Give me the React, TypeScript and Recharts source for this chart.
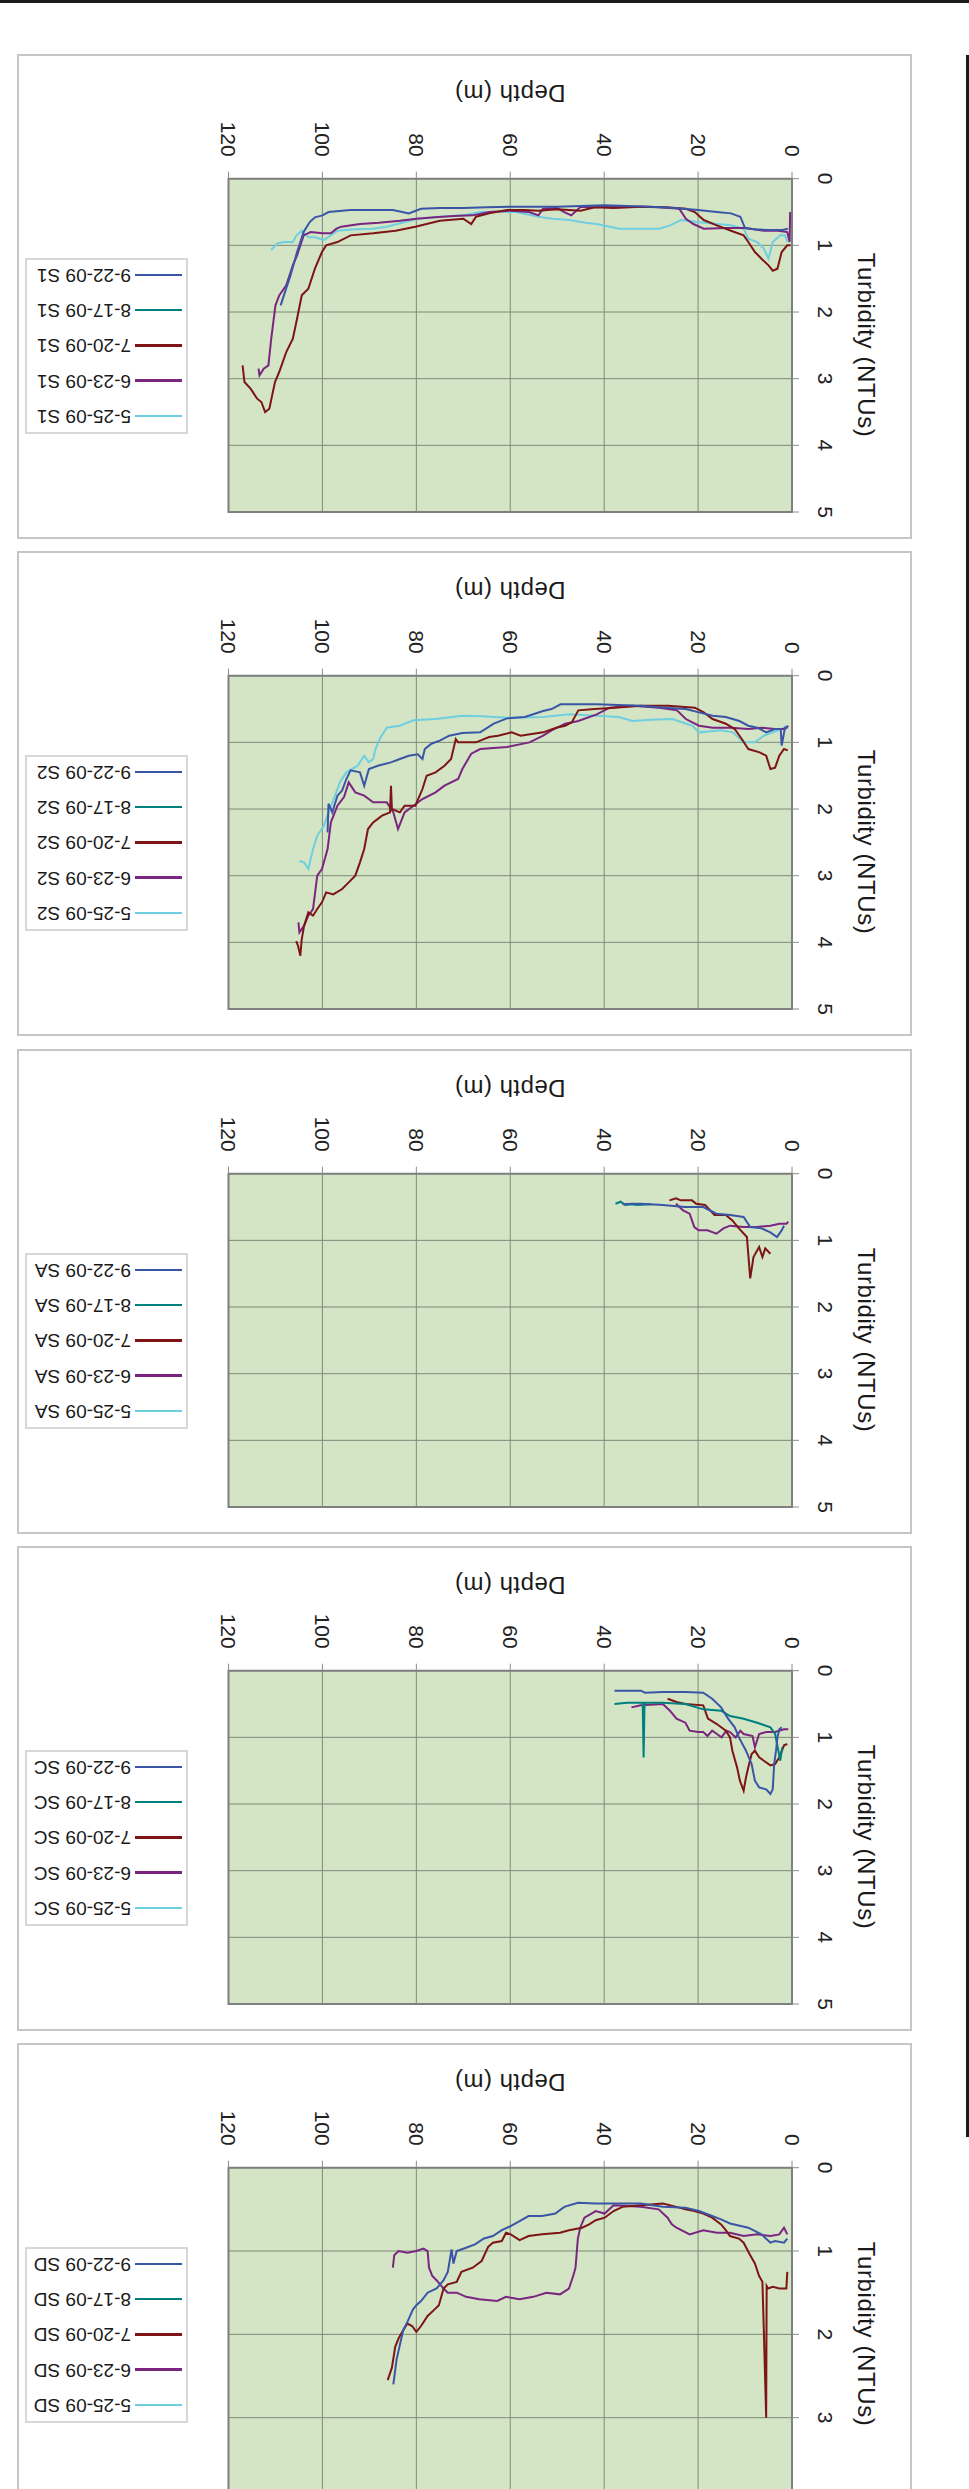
import React from "react";
import {
  LineChart,
  Line,
  XAxis,
  YAxis,
  CartesianGrid,
  Legend,
  ReferenceArea,
} from "recharts";

const FONT = '"Liberation Sans", Arial, sans-serif';

// series order = drawing order (the legend box is shown turned over, so it reads bottom-up)
const DATES = ["5-25-09", "6-23-09", "7-20-09", "8-17-09", "9-22-09"];
const COLORS = ["#6fcfe0", "#7b2580", "#7e1416", "#00807e", "#3a55a6"];
const DEPTH_TICKS = [0, 20, 40, 60, 80, 100, 120];

// [depth (m), turbidity (NTU)]
// ---- S1
const s1_0525 = [[0.9, 0.95], [1.5, 0.85], [2.5, 0.85], [4.1, 0.95], [5, 1.2], [6, 1.05], [7.4, 0.95], [9.3, 0.9], [10.3, 0.75], [13, 0.7], [16, 0.68], [20, 0.65], [23.6, 0.62], [26, 0.7], [28.3, 0.75], [33, 0.75], [36.9, 0.75], [38.8, 0.72], [41.6, 0.68], [44, 0.66], [47.4, 0.62], [51, 0.6], [54, 0.57], [58.8, 0.5], [62, 0.5], [66.4, 0.5], [70.2, 0.55], [75, 0.57], [79.7, 0.6], [83, 0.66], [86.3, 0.72], [89.2, 0.75], [93, 0.76], [96.8, 0.78], [99.7, 0.92], [101.5, 0.88], [103, 0.88], [104.4, 0.78], [105.5, 0.85], [106.3, 0.95], [108.2, 0.95], [109.6, 0.97], [110.9, 1.07]];
const s1_0623 = [[0.4, 0.5], [0.5, 0.95], [1, 0.8], [3, 0.78], [6, 0.78], [10, 0.74], [14, 0.74], [18.8, 0.75], [21, 0.68], [22.6, 0.6], [24, 0.45], [28, 0.43], [33, 0.42], [38, 0.42], [42, 0.43], [45, 0.42], [47, 0.55], [48.5, 0.5], [50, 0.44], [53, 0.45], [54, 0.55], [56, 0.5], [60, 0.48], [64.5, 0.5], [68, 0.55], [72, 0.56], [76, 0.58], [80, 0.6], [83.5, 0.63], [88, 0.66], [92, 0.68], [96, 0.72], [97, 0.75], [98.2, 0.82], [100, 0.82], [102.5, 0.8], [104, 0.85], [105.4, 1.15], [106.3, 1.3], [107.7, 1.6], [109.2, 1.75], [110, 1.9], [110.9, 2.4], [111.5, 2.8], [112.5, 2.85], [113.4, 2.95], [113.6, 2.85]];
const s1_0720 = [[0.3, 1.0], [1, 1.0], [2.2, 1.1], [3.1, 1.35], [4.1, 1.38], [5, 1.3], [6.5, 1.2], [7.9, 1.1], [9.3, 0.95], [10.3, 0.85], [13, 0.78], [16, 0.7], [18.8, 0.62], [20.7, 0.5], [22.6, 0.45], [27, 0.43], [32, 0.42], [38, 0.44], [42, 0.43], [45, 0.48], [50, 0.46], [54, 0.48], [57, 0.47], [60.7, 0.47], [64.5, 0.52], [67.3, 0.57], [68.3, 0.68], [70, 0.6], [75, 0.63], [80.2, 0.72], [84.4, 0.78], [89.2, 0.82], [94, 0.85], [96.8, 0.95], [99.2, 1.0], [100.1, 1.1], [101.6, 1.35], [103, 1.65], [104.4, 1.75], [105.4, 2.1], [106.3, 2.4], [107.7, 2.6], [109.2, 2.9], [110.1, 3.05], [111.3, 3.45], [112.2, 3.5], [113, 3.35], [113.9, 3.3], [115.3, 3.15], [116.6, 3.05], [117, 2.8]];
const s1_0817: number[][] = [];
const s1_0922 = [[0.9, 0.75], [2, 0.77], [5, 0.77], [8, 0.76], [10, 0.74], [11, 0.57], [13, 0.52], [16, 0.5], [20, 0.47], [25, 0.44], [30, 0.42], [35, 0.41], [40, 0.4], [45, 0.41], [50, 0.42], [55, 0.42], [60, 0.42], [65, 0.43], [70, 0.44], [75, 0.44], [79, 0.45], [81.6, 0.52], [83, 0.5], [85, 0.47], [90, 0.47], [94, 0.47], [97, 0.49], [98.7, 0.5], [100, 0.55], [101.6, 0.58], [102.7, 0.65], [104, 0.8], [105.4, 1.1], [106.8, 1.45], [108.2, 1.75], [108.9, 1.9]];

// ---- S2
const s2_0525 = [[1.2, 0.75], [2.2, 0.8], [4.1, 0.85], [6, 0.9], [7.9, 1.0], [10.3, 1.0], [12.6, 0.85], [15, 0.82], [19.8, 0.85], [21.2, 0.75], [25.5, 0.65], [30, 0.66], [34, 0.68], [36.9, 0.62], [41.6, 0.6], [47.4, 0.58], [53, 0.62], [60.7, 0.63], [66, 0.61], [70.2, 0.6], [75.9, 0.65], [80.6, 0.67], [83.5, 0.75], [86.3, 0.78], [87.8, 0.95], [88.7, 1.1], [89.2, 1.25], [90.1, 1.3], [91.1, 1.2], [92.5, 1.35], [94.9, 1.45], [96.3, 1.6], [97.3, 1.8], [98.7, 2.05], [99.7, 2.25], [101.1, 2.4], [102, 2.6], [103, 2.9], [103.9, 2.8], [104.9, 2.78]];
const s2_0623 = [[0.8, 0.75], [1.5, 0.8], [3.6, 0.8], [6.5, 0.78], [9.3, 0.8], [13, 0.78], [16.9, 0.78], [19.8, 0.75], [22.6, 0.65], [24.5, 0.52], [28.3, 0.48], [34, 0.45], [38.8, 0.48], [41.6, 0.58], [45.5, 0.68], [48.3, 0.72], [51.2, 0.82], [53, 0.9], [55.9, 1.0], [60.7, 1.07], [66.4, 1.1], [68.3, 1.17], [70.2, 1.4], [71.1, 1.55], [74, 1.65], [75.9, 1.75], [78.7, 1.85], [80.6, 1.95], [82.5, 2.05], [83.9, 2.3], [84.9, 2.05], [86.3, 1.9], [89.2, 1.9], [91.1, 1.8], [93, 1.75], [94.4, 1.6], [95.4, 1.82], [96.8, 1.95], [98.2, 2.2], [98.9, 2.6], [100.1, 2.9], [101.1, 3.0], [102, 3.5], [103, 3.6], [103.9, 3.75], [104.9, 3.85], [105.1, 3.7]];
const s2_0720 = [[0.9, 1.12], [1.7, 1.1], [2.7, 1.2], [3.6, 1.38], [4.6, 1.4], [5.5, 1.2], [6.9, 1.15], [9.3, 1.1], [10.7, 0.95], [12.2, 0.8], [14.1, 0.72], [16.9, 0.65], [18.8, 0.55], [20.7, 0.48], [26.4, 0.45], [32.1, 0.45], [37.8, 0.48], [42, 0.5], [45.5, 0.52], [46.9, 0.7], [48.3, 0.75], [50.2, 0.78], [53, 0.85], [57.8, 0.9], [59.7, 0.85], [62.6, 0.9], [64.5, 0.92], [67.3, 1.0], [71.1, 1.0], [71.6, 0.95], [72.6, 1.25], [74, 1.35], [75.9, 1.45], [77.8, 1.5], [78.7, 1.7], [80.2, 1.95], [82.5, 1.95], [83.5, 2.05], [85.2, 2.0], [85.4, 1.65], [85.6, 2.05], [87.3, 2.1], [89.2, 2.2], [90.3, 2.3], [91.1, 2.6], [92, 2.8], [93, 3.0], [94.4, 3.1], [95.8, 3.2], [97.7, 3.28], [99.2, 3.25], [100.1, 3.4], [101.1, 3.5], [102, 3.6], [103, 3.55], [103.9, 3.75], [104.4, 3.95], [104.7, 4.2], [105.2, 4.05], [105.6, 3.98]];
const s2_0817: number[][] = [];
const s2_0922 = [[0.95, 0.78], [1.5, 0.78], [2.2, 1.05], [2.4, 0.8], [3.6, 0.8], [5.5, 0.85], [7.4, 0.78], [9.3, 0.75], [11.2, 0.68], [14.1, 0.62], [16.9, 0.6], [19.8, 0.55], [22.6, 0.5], [27.4, 0.48], [32.1, 0.45], [37, 0.44], [41.6, 0.43], [45, 0.43], [49.3, 0.43], [51.2, 0.5], [53, 0.53], [56.9, 0.62], [60.7, 0.64], [63.5, 0.72], [66.4, 0.85], [70.2, 0.86], [73, 0.9], [74.9, 0.97], [76.8, 1.02], [78.2, 1.1], [78.7, 1.25], [79.7, 1.18], [81.6, 1.2], [83.5, 1.25], [85.4, 1.3], [88.2, 1.35], [90.1, 1.4], [91.1, 1.65], [92, 1.45], [94, 1.42], [94.9, 1.55], [95.8, 1.72], [96.8, 1.8], [97.9, 2.05], [98.7, 1.92], [98.9, 2.35]];

// ---- SA
const sa_0525: number[][] = [];
const sa_0623 = [[0.8, 0.72], [1.2, 0.75], [2.7, 0.75], [4.6, 0.78], [7.5, 0.8], [10.3, 0.8], [13.2, 0.78], [14.6, 0.82], [16.1, 0.9], [18, 0.85], [19.9, 0.85], [20.8, 0.8], [21.8, 0.6], [23.2, 0.55], [24.7, 0.45]];
const sa_0720 = [[4.6, 1.2], [5.7, 1.12], [6.3, 1.25], [7, 1.1], [8.2, 1.25], [8.9, 1.57], [9.6, 0.95], [11.3, 0.82], [12.7, 0.7], [14.1, 0.62], [16.5, 0.62], [18.5, 0.47], [20.4, 0.45], [21.3, 0.4], [23.7, 0.4], [24.7, 0.37], [26.1, 0.4]];
const sa_0817 = [[30, 0.46], [33, 0.47], [34, 0.46], [35.5, 0.47], [36.5, 0.42], [37.6, 0.45]];
const sa_0922 = [[1.7, 0.78], [2.2, 0.85], [3.2, 0.95], [4.6, 0.88], [6.5, 0.82], [8.9, 0.8], [10.3, 0.65], [13.2, 0.62], [16.1, 0.6], [18.9, 0.5], [22.8, 0.5], [27.5, 0.47], [32.3, 0.45], [34, 0.45], [36.1, 0.46]];

// ---- SC
const sc_0525: number[][] = [];
const sc_0623 = [[0.8, 0.88], [1.7, 0.88], [3.6, 0.92], [5.5, 0.92], [7, 0.95], [7.9, 1.15], [8.4, 0.98], [10.3, 0.95], [11, 0.9], [12, 1.0], [13.2, 0.92], [14, 0.9], [15, 1.0], [16, 0.95], [17, 0.9], [18, 0.98], [18.9, 0.92], [20, 0.92], [21.8, 0.9], [22.7, 0.78], [24.6, 0.72], [26, 0.6], [27.5, 0.5], [32.2, 0.52], [34.2, 0.55]];
const sc_0720 = [[1, 1.1], [1.7, 1.12], [2.7, 1.3], [3.6, 1.4], [4.6, 1.42], [6, 1.35], [7, 1.3], [7.9, 1.2], [8.6, 1.25], [9.3, 1.45], [9.8, 1.6], [10.3, 1.8], [11.1, 1.65], [11.7, 1.45], [12.7, 1.2], [13.2, 1.0], [14.1, 0.9], [16, 0.8], [17.9, 0.72], [18.9, 0.52], [22.7, 0.5], [24.6, 0.47], [26.5, 0.42]];
const sc_0817 = [[2.1, 1.15], [2.5, 1.35], [2.9, 1.2], [3.6, 0.95], [4.6, 0.85], [7.4, 0.78], [10.3, 0.72], [13.2, 0.68], [15.1, 0.6], [18.9, 0.58], [22.7, 0.5], [27.5, 0.48], [31.4, 0.48], [31.6, 1.3], [31.8, 0.48], [35.1, 0.48], [37.8, 0.5]];
const sc_0922 = [[2.2, 0.85], [2.7, 0.88], [3.1, 1.0], [3.4, 1.2], [3.8, 1.4], [4.1, 1.78], [4.6, 1.85], [5.5, 1.78], [7, 1.75], [7.9, 1.65], [8.6, 1.4], [9.8, 1.2], [11.3, 1.0], [12.2, 0.85], [13.6, 0.72], [15.1, 0.55], [17, 0.42], [18.9, 0.33], [22.7, 0.32], [27.5, 0.32], [31.3, 0.33], [32.2, 0.3], [35, 0.3], [37.8, 0.3]];

// ---- SD
const sd_0525: number[][] = [];
const sd_0623 = [[1, 0.8], [1.7, 0.72], [2.7, 0.8], [4.6, 0.82], [7.4, 0.8], [10.3, 0.82], [13.2, 0.78], [16, 0.78], [18.9, 0.75], [21.8, 0.8], [24.6, 0.72], [25.6, 0.68], [26.5, 0.6], [28.4, 0.5], [32.2, 0.47], [38, 0.45], [39.9, 0.55], [41.8, 0.52], [42.7, 0.55], [44.2, 0.6], [45.1, 0.72], [45.6, 0.85], [46.1, 1.2], [46.6, 1.3], [47.5, 1.45], [49.4, 1.52], [52.3, 1.5], [55.1, 1.55], [58, 1.58], [60.9, 1.55], [62.8, 1.6], [66.6, 1.58], [69.4, 1.55], [71.4, 1.5], [73.3, 1.5], [74.2, 1.45], [75.7, 1.35], [76.6, 1.3], [77.3, 1.2], [77.6, 1.0], [78.5, 0.97], [80, 1.0], [81.9, 1.02], [83.8, 1.0], [84.7, 1.05], [85, 1.2]];
const sd_0720 = [[1, 1.25], [1.2, 1.45], [2.7, 1.45], [4.1, 1.43], [5.1, 1.45], [5.4, 1.42], [5.5, 3.0], [6.0, 1.95], [6.3, 1.37], [7, 1.3], [7.9, 1.15], [8.9, 1.05], [10.3, 0.9], [11.3, 0.85], [13.2, 0.82], [14.1, 0.75], [15.1, 0.68], [17, 0.6], [18.9, 0.55], [20.8, 0.52], [22.7, 0.5], [24.6, 0.47], [27.5, 0.43], [32.2, 0.45], [36.1, 0.47], [38, 0.52], [39.9, 0.6], [41.8, 0.63], [43.2, 0.68], [44.7, 0.72], [47.5, 0.75], [49.4, 0.78], [53.2, 0.8], [56.1, 0.82], [58, 0.87], [59.9, 0.8], [60.9, 0.78], [61.8, 0.88], [63.7, 0.9], [64.7, 0.95], [66.1, 1.12], [68, 1.2], [70.4, 1.25], [71.4, 1.37], [73.3, 1.4], [74.2, 1.45], [75.2, 1.65], [76.1, 1.7], [77.6, 1.78], [79, 1.9], [80, 1.97], [80.9, 1.9], [81.9, 1.87], [82.8, 1.95], [83.8, 2.05], [84.5, 2.15], [85.2, 2.4], [86.1, 2.55]];
const sd_0817: number[][] = [];
const sd_0922 = [[1, 0.85], [1.7, 0.9], [3.6, 0.88], [4.6, 0.9], [6.5, 0.8], [9.3, 0.72], [13.2, 0.67], [15.1, 0.62], [17, 0.58], [19.8, 0.52], [22.7, 0.48], [27.5, 0.47], [32.2, 0.43], [37, 0.43], [41.8, 0.43], [45.6, 0.42], [48.5, 0.47], [50.4, 0.55], [53.2, 0.58], [56.1, 0.58], [58, 0.64], [59.9, 0.7], [61.8, 0.75], [63.7, 0.82], [65.6, 0.85], [67.5, 0.92], [69.4, 0.96], [71.4, 1.0], [72.1, 1.15], [72.5, 0.98], [73.3, 1.25], [74.2, 1.35], [75.7, 1.45], [77.6, 1.5], [79, 1.6], [80, 1.65], [80.7, 1.7], [81.9, 1.85], [82.8, 1.95], [83.6, 2.15], [84.2, 2.3], [84.9, 2.6]];

const PANELS = [
  { site: "S1", yMax: 5, series: [s1_0525, s1_0623, s1_0720, s1_0817, s1_0922] },
  { site: "S2", yMax: 5, series: [s2_0525, s2_0623, s2_0720, s2_0817, s2_0922] },
  { site: "SA", yMax: 5, series: [sa_0525, sa_0623, sa_0720, sa_0817, sa_0922] },
  { site: "SC", yMax: 5, series: [sc_0525, sc_0623, sc_0720, sc_0817, sc_0922] },
  { site: "SD", yMax: 4, series: [sd_0525, sd_0623, sd_0720, sd_0817, sd_0922] },
];

const PITCH = 497.25;

const toRows = (pts: number[][]) => pts.map(([depth, ntu]) => ({ depth, ntu }));

function DepthTick(props: any) {
  const { x, y, payload } = props;
  return (
    <text
      transform={`translate(${x},${y}) rotate(90)`}
      textAnchor="end"
      dominantBaseline="central"
      fontSize={21}
      fontFamily={FONT}
      fill="#222"
    >
      {payload.value}
    </text>
  );
}

function NtuTick(props: any) {
  const { x, y, payload } = props;
  return (
    <text
      transform={`translate(${x},${y}) rotate(90)`}
      textAnchor="middle"
      dominantBaseline="central"
      fontSize={21}
      fontFamily={FONT}
      fill="#222"
    >
      {payload.value}
    </text>
  );
}

function LegendBox(props: any) {
  const items = props.payload || [];
  return (
    <div
      style={{
        width: 163,
        height: 176,
        boxSizing: "border-box",
        border: "2px solid #d8d8d8",
        background: "#fff",
        transform: "rotate(180deg)",
        position: "relative",
        fontFamily: FONT,
      }}
    >
      {items.map((it: any, k: number) => (
        <div
          key={it.value}
          style={{
            position: "absolute",
            left: 4,
            top: 16 + k * 35.3 - 12,
            height: 24,
            display: "flex",
            alignItems: "center",
            whiteSpace: "nowrap",
          }}
        >
          <span style={{ display: "inline-block", width: 47, height: 2.5, background: it.color }} />
          <span style={{ marginLeft: 4, fontSize: 19, lineHeight: "24px", color: "#1a1a1a" }}>
            {it.value}
          </span>
        </div>
      ))}
    </div>
  );
}

function Panel({ site, yMax, series, top }: any) {
  const ntuTicks = Array.from({ length: yMax + 1 }, (_, k) => k);
  return (
    <div style={{ position: "absolute", left: 0, top, width: 969, height: 530 }}>
      <div
        style={{
          position: "absolute",
          left: 17,
          top: 54,
          width: 895,
          height: 485,
          boxSizing: "border-box",
          border: "2px solid #c6c6c6",
        }}
      />
      <div style={{ position: "absolute", left: 0, top: 0 }}>
        <LineChart width={969} height={530} margin={{ top: 0, right: 0, bottom: 18, left: 228.5 }}>
          <CartesianGrid stroke="#7f8a7b" fill="#d3e5c4" fillOpacity={1} />
          <XAxis
            type="number"
            dataKey="depth"
            orientation="top"
            reversed
            domain={[0, 120]}
            ticks={DEPTH_TICKS}
            height={178.7}
            axisLine={false}
            tickSize={7}
            tickMargin={15}
            tickLine={{ stroke: "#8c8c8c" }}
            tick={<DepthTick />}
            interval={0}
          />
          <YAxis
            type="number"
            dataKey="ntu"
            orientation="right"
            reversed
            domain={[0, yMax]}
            ticks={ntuTicks}
            width={177}
            axisLine={false}
            tickSize={7}
            tickMargin={26}
            tickLine={{ stroke: "#8c8c8c" }}
            tick={<NtuTick />}
            interval={0}
          />
          <ReferenceArea
            x1={0}
            x2={120}
            y1={0}
            y2={yMax}
            fill="none"
            stroke="#7f7f7f"
            strokeWidth={2}
          />
          {series.map((pts: number[][], k: number) => (
            <Line
              key={DATES[k]}
              data={toRows(pts)}
              dataKey="ntu"
              name={`${DATES[k]} ${site}`}
              type="linear"
              stroke={COLORS[k]}
              strokeWidth={2}
              dot={false}
              activeDot={false}
              isAnimationActive={false}
            />
          ))}
          <Legend
            layout="horizontal"
            align="center"
            verticalAlign="middle"
            content={<LegendBox />}
            wrapperStyle={{ position: "absolute", left: 25, top: 258, width: 163, height: 176 }}
          />
        </LineChart>
      </div>
      <div
        style={{
          position: "absolute",
          left: 510,
          top: 93,
          transform: "translate(-50%, -50%) rotate(180deg)",
          fontFamily: FONT,
          fontSize: 24,
          letterSpacing: 0.5,
          lineHeight: 1,
          whiteSpace: "nowrap",
          color: "#1a1a1a",
        }}
      >
        Depth (m)
      </div>
      <div
        style={{
          position: "absolute",
          left: 866,
          top: 345,
          transform: "translate(-50%, -50%) rotate(90deg)",
          fontFamily: FONT,
          fontSize: 24,
          letterSpacing: 0.6,
          lineHeight: 1,
          whiteSpace: "nowrap",
          color: "#1a1a1a",
        }}
      >
        Turbidity (NTUs)
      </div>
    </div>
  );
}

export default function App() {
  return (
    <div
      style={{
        position: "absolute",
        left: 0,
        top: 0,
        width: 969,
        height: 2489,
        overflow: "hidden",
        background: "#fff",
      }}
    >
      <div style={{ position: "absolute", left: 0, top: 0, width: 969, height: 3, background: "#1b1b1b" }} />
      <div style={{ position: "absolute", left: 966, top: 55, width: 3, height: 2082, background: "#1b1b1b" }} />
      {PANELS.map((p, i) => (
        <Panel key={p.site} site={p.site} yMax={p.yMax} series={p.series} top={i * PITCH} />
      ))}
    </div>
  );
}
